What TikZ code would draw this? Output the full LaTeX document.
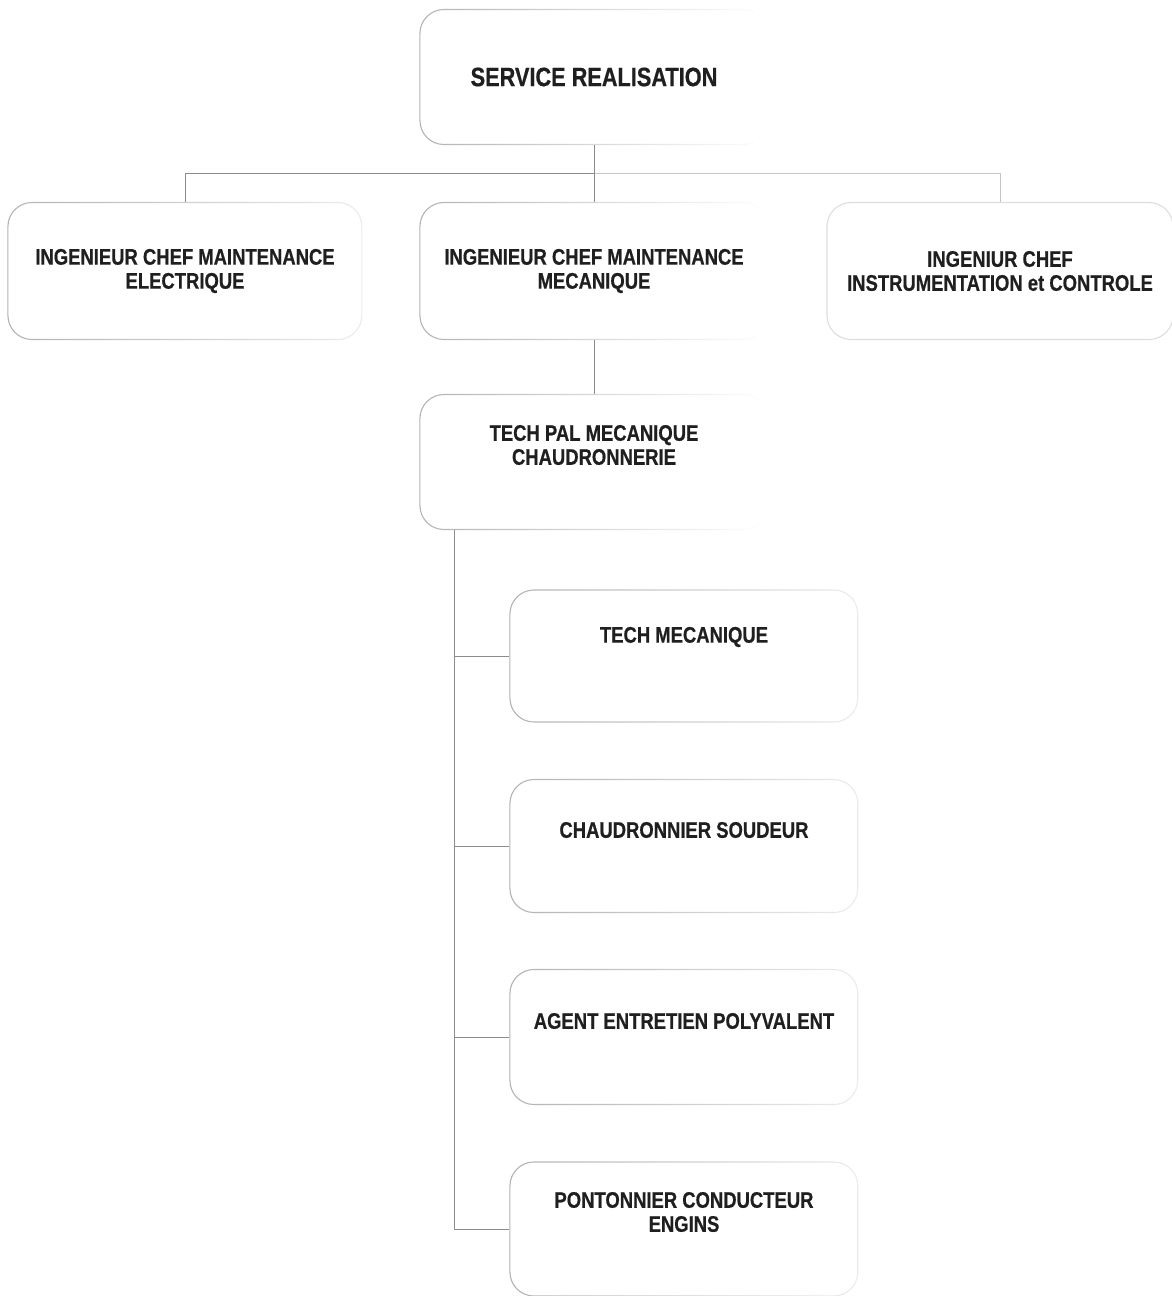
\documentclass[tikz,border=0pt]{standalone}
\usepackage{fontspec}
\usetikzlibrary{fadings}
\newfontfamily\orgfont{Liberation Sans}[FakeStretch=0.82,FakeBold=0.6]
\definecolor{boxgray}{gray}{0.7}
\definecolor{linkgray}{gray}{0.55}
\definecolor{ink}{gray}{0.12}
% outlines that grow faint towards their right side
\tikzfading[name=fadeeast, left color=transparent!0, middle color=transparent!15,
  right color=transparent!100]
\tikzfading[name=softeast, left color=transparent!0, middle color=transparent!20,
  right color=transparent!75]
\begin{document}
\begin{tikzpicture}[x=1pt,y=-1pt,
  box/.style={draw=boxgray, line width=1.1pt, rounded corners=24pt,
    minimum width=348pt, minimum height=134pt, inner sep=0pt},
  faded/.style={path fading=fadeeast},
  soft/.style={path fading=softeast},
  lab/.style={font=\orgfont\bfseries\fontsize{22.5}{24}\selectfont,
    align=center, text=ink, inner sep=0pt},
  title/.style={lab, font=\orgfont\bfseries\fontsize{26.5}{28}\selectfont},
  link/.style={draw=linkgray, line width=1pt}]
\useasboundingbox (0,0) rectangle (1171,1296);

% top of the hierarchy
\node[box, faded, minimum height=135pt] (top) at (594,77) {};
\node[title] (topt) at (top.center) {SERVICE REALISATION};

% chief engineers
\node[box, soft, minimum width=354pt, minimum height=137pt] (elec) at (185,271) {};
\node[lab] (elect) at (elec.center) {INGENIEUR CHEF MAINTENANCE\\ELECTRIQUE};
\node[box, faded, minimum height=137pt] (meca) at (594,271) {};
\node[lab] (mecat) at (meca.center) {INGENIEUR CHEF MAINTENANCE\\MECANIQUE};
\node[box, draw=boxgray!45, minimum width=346pt, minimum height=137pt] (inst) at (1000,271) {};
\node[lab] (instt) at (inst.center) {INGENIUR CHEF\\INSTRUMENTATION et CONTROLE};

% mechanical team
\node[box, faded, minimum height=135pt] (tpal) at (594,462) {};
\node[lab] (tpalt) at ([yshift=17pt]tpal.center) {TECH PAL MECANIQUE\\CHAUDRONNERIE};

\node[box, soft, minimum height=132pt] (tmec) at (684,656) {};
\node[lab] (tmect) at ([yshift=19pt]tmec.center) {TECH MECANIQUE};
\node[box, soft, minimum height=133pt] (chau) at (684,846) {};
\node[lab] (chaut) at ([yshift=16pt]chau.center) {CHAUDRONNIER SOUDEUR};
\node[box, soft, minimum height=135pt] (agent) at (684,1037) {};
\node[lab] (agentt) at ([yshift=16pt]agent.center) {AGENT ENTRETIEN POLYVALENT};
\node[box, soft, minimum height=134pt] (pont) at (684,1229) {};
\node[lab] (pontt) at ([yshift=17pt]pont.center) {PONTONNIER CONDUCTEUR\\ENGINS};

% connectors
\coordinate (bus) at ([yshift=-28pt]top.south);
\draw[link] (top.south) -- (bus);
\draw[link] (elec.north) |- (bus);
\draw[link, draw=linkgray!50] (bus) -| (inst.north);
\draw[link] (bus) -- (meca.north);
\draw[link] (meca.south) -- (tpal.north);
\coordinate (spine) at ([xshift=35pt]tpal.south west);
\draw[link] (spine) |- (pont.west);
\draw[link] (tmec.west) -- (tmec.west -| spine);
\draw[link] (chau.west) -- (chau.west -| spine);
\draw[link] (agent.west) -- (agent.west -| spine);
\end{tikzpicture}
\end{document}
